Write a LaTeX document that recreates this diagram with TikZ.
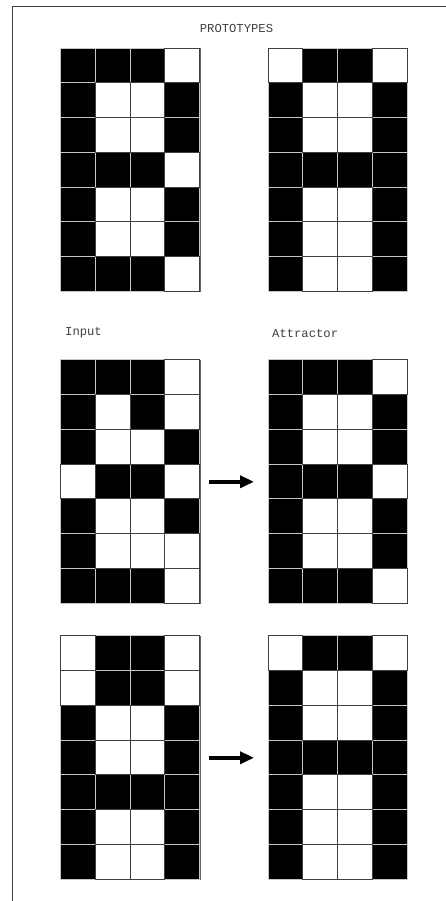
\documentclass[tikz,border=0pt]{standalone}
\usepackage{fontspec}
\setmonofont{Liberation Mono}
\usetikzlibrary{arrows.meta}
\tikzset{
  lbl/.style={font=\ttfamily\fontsize{12.2}{13}\selectfont, text=black!75, inner sep=0pt},
  gridbox/.style={draw=black!60, line width=0.7pt, minimum width=139pt, minimum height=243.25pt, inner sep=0pt, anchor=north west},
  oncell/.style={fill=black, draw=gray!45, line width=0.7pt},
  offcell/.style={fill=white, draw=black!75, line width=0.7pt},
  flowarrow/.style={line width=4pt, -{Triangle[length=14pt,width=12pt]}},
  frameline/.style={draw=black!75, line width=1.3pt}
}
\newcommand{\pixgrid}[4]{%
  \node[gridbox] (#1) at (#2,#3) {};
  \foreach \row [count=\r] in {#4} {
    \foreach \v [count=\c] in \row {
      \ifnum\v=1
        \filldraw[oncell] ({#2+(\c-1)*34.75},{#3+(\r-1)*34.75}) rectangle ++(34.75,34.75);
      \fi
    }
  }
  \foreach \row [count=\r] in {#4} {
    \foreach \v [count=\c] in \row {
      \ifnum\v=0
        \filldraw[offcell] ({#2+(\c-1)*34.75},{#3+(\r-1)*34.75}) rectangle ++(34.75,34.75);
      \fi
    }
  }
}
\begin{document}
\begin{tikzpicture}[x=1pt,y=-1pt]
\useasboundingbox (0,0) rectangle (446,901);
\coordinate (ftop) at (446,6.7);
\coordinate (fcorner) at (12.8,6.7);
\coordinate (fbot) at (12.8,901);
\draw[frameline] (ftop) -- (fcorner) -- (fbot);

\node[lbl] (title) at (236.5,28.5) {PROTOTYPES};
\node[lbl, anchor=west] (inlbl) at (65,333) {Input};
\node[lbl, anchor=west] (atlbl) at (272,333) {Attractor};

\pixgrid{protoB}{60.5}{48}{{1,1,1,0},{1,0,0,1},{1,0,0,1},{1,1,1,0},{1,0,0,1},{1,0,0,1},{1,1,1,0}}
\pixgrid{protoA}{268}{48}{{0,1,1,0},{1,0,0,1},{1,0,0,1},{1,1,1,1},{1,0,0,1},{1,0,0,1},{1,0,0,1}}

\pixgrid{inB}{60.5}{359.8}{{1,1,1,0},{1,0,1,0},{1,0,0,1},{0,1,1,0},{1,0,0,1},{1,0,0,0},{1,1,1,0}}
\pixgrid{atB}{268}{359.8}{{1,1,1,0},{1,0,0,1},{1,0,0,1},{1,1,1,0},{1,0,0,1},{1,0,0,1},{1,1,1,0}}

\pixgrid{inA}{60.5}{635.8}{{0,1,1,0},{0,1,1,0},{1,0,0,1},{1,0,0,1},{1,1,1,1},{1,0,0,1},{1,0,0,1}}
\pixgrid{atA}{268}{635.8}{{0,1,1,0},{1,0,0,1},{1,0,0,1},{1,1,1,1},{1,0,0,1},{1,0,0,1},{1,0,0,1}}

\draw[flowarrow, shorten <=9pt, shorten >=14pt] (inB.east) -- (atB.west);
\draw[flowarrow, shorten <=9pt, shorten >=14pt] (inA.east) -- (atA.west);
\end{tikzpicture}
\end{document}
